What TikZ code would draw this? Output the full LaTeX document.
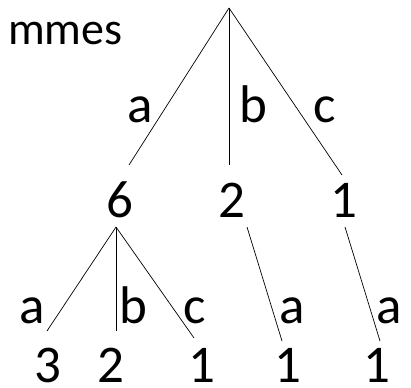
\documentclass[tikz,border=0pt]{standalone}
\usepackage{fontspec}
\setmainfont{Carlito}
\tikzset{
  lbl/.style={anchor=base, inner sep=0pt, font=\fontsize{53}{60}\selectfont},
  edge/.style={line width=0.7pt, black}
}
\begin{document}
\begin{tikzpicture}[x=1pt,y=-1pt]
\clip (0,0) rectangle (411,387);
% title fragment
\node[anchor=base west, inner sep=0pt, font=\fontsize{46}{55}\selectfont] (title) at (8,45) {mmes};
% level 1
\node[lbl] (n6) at (120,217) {6};
\node[lbl] (n2) at (232,217) {2};
\node[lbl] (n1) at (344,217) {1};
\node[lbl] (la) at (140,123) {a};
\node[lbl] (lb) at (253,123) {b};
\node[lbl] (lc) at (325,123) {c};
% level 2
\node[lbl] (ka) at (32,323) {a};
\node[lbl] (kb) at (133,323) {b};
\node[lbl] (kc) at (195,323) {c};
\node[lbl] (kd) at (292,323) {a};
\node[lbl] (ke) at (389,323) {a};
\node[lbl] (m3) at (48,382) {3};
\node[lbl] (m2) at (111,382) {2};
\node[lbl] (m1) at (202,382) {1};
\node[lbl] (m1b) at (288,382) {1};
\node[lbl] (m1c) at (377,382) {1};
% connector end points
\coordinate (root) at (229,8);
\coordinate (e6) at (129,165);
\coordinate (e2) at (229,165);
\coordinate (e1) at (342,175);
\coordinate (s6) at (116,227);
\coordinate (d3) at (47,331);
\coordinate (d2) at (116,331);
\coordinate (d1) at (194,338);
\coordinate (s2) at (247,227);
\coordinate (d2b) at (282,341);
\coordinate (s1) at (345,227);
\coordinate (d1b) at (380,341);
\draw[edge] (root) -- (e6);
\draw[edge] (root) -- (e2);
\draw[edge] (root) -- (e1);
\draw[edge] (s6) -- (d3);
\draw[edge] (s6) -- (d2);
\draw[edge] (s6) -- (d1);
\draw[edge] (s2) -- (d2b);
\draw[edge] (s1) -- (d1b);
\end{tikzpicture}
\end{document}
